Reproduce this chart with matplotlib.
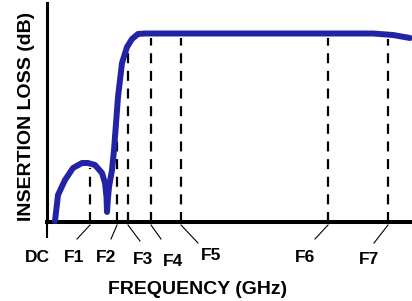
import numpy as np
import matplotlib
matplotlib.use("Agg")
import matplotlib.pyplot as plt

# insertion-loss response (arbitrary frequency units, axis pixels)
freq = [8, 11, 18, 26, 35, 41, 48, 55, 58, 59.5, 60, 60.8, 62, 65, 67, 71, 75, 80, 85, 91, 98,
        326, 346, 363]
loss = [1, 27, 42, 54, 59, 59, 57, 49, 39, 25, 10, 22, 35, 52, 72, 125, 159, 175, 183, 188, 188.5,
        188.5, 187, 184]

# marker frequencies F1..F7
marks = [43, 70, 81, 104, 134, 281, 341]
mark_labels = ["F1", "F2", "F3", "F4", "F5", "F6", "F7"]

# label layout (centre x, centre y) and leader-line ends
label_xy = [(27, -35), (59, -36), (96.5, -37), (126, -39), (164, -34), (257.5, -36), (322.5, -38)]
leader_end = [(30, -17), (64, -17), (93, -19), (114, -17), (151, -21), (268, -17), (327, -21)]

plt.rcParams["font.family"] = ["Liberation Sans", "DejaVu Sans"]
plt.rcParams["font.weight"] = "bold"
plt.rcParams["lines.scale_dashes"] = False

W, H = 412, 301
fig = plt.figure(figsize=(W / 100, H / 100), dpi=100)
ax = fig.add_axes([47 / W, (H - 222) / H, 365 / W, 219 / H])
ax.set_xlim(0, 365)
ax.set_ylim(0, 219)

blue = "#2323a6"
ax.plot(freq, loss, color=blue, lw=4.3, solid_joinstyle="round", solid_capstyle="round",
        zorder=3, clip_on=False)

for f in marks:
    top = np.interp(f, freq, loss) - 4
    ax.plot([f, f], [0, top], color="black", lw=1.6, ls=(0, (7.2, 5.5)), zorder=2)

for f, lab, (lx, ly), (ex, ey) in zip(marks, mark_labels, label_xy, leader_end):
    ax.plot([f, ex], [-3, ey], color="black", lw=0.8, clip_on=False)
    ax.text(lx, ly, lab, ha="center", va="center", fontsize=12.5, fontweight="bold")
ax.text(-10, -35, "DC", ha="center", va="center", fontsize=12.5, fontweight="bold")

for s in ["top", "right"]:
    ax.spines[s].set_visible(False)
ax.spines["left"].set_linewidth(2.2)
ax.spines["bottom"].set_linewidth(2.9)
ax.set_yticks([])
ax.set_xticks([0])
ax.set_xticklabels([""])
ax.tick_params(axis="x", length=11.5, width=1.5, direction="out")

fig.text(198 / W, 1 - 289 / H, "FREQUENCY (GHz)", ha="center", va="center",
         fontsize=14, fontweight="bold")
fig.text(27 / W, 1 - 116 / H, "INSERTION LOSS (dB)", ha="center", va="center",
         rotation=90, fontsize=14, fontweight="bold")

fig.savefig("out.png", dpi=100)
plt.close(fig)
